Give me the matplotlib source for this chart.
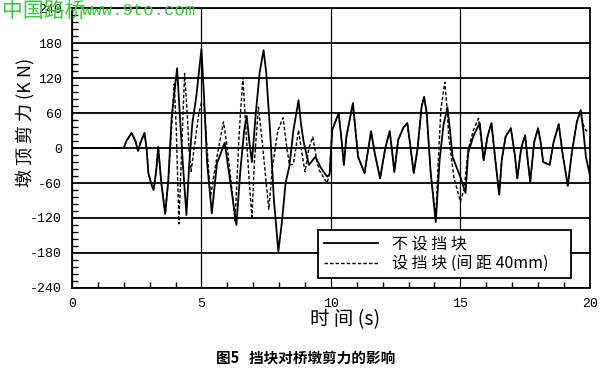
import matplotlib
matplotlib.use("Agg")
import matplotlib.pyplot as plt
from matplotlib.ticker import MultipleLocator

plt.rcParams['font.family'] = ['Noto Sans CJK SC', 'DejaVu Sans']
plt.rcParams['axes.unicode_minus'] = False

# 不设挡块 (solid)
t_solid = [0, 2.0, 2.1, 2.3, 2.45, 2.55, 2.65, 2.8, 2.88, 2.95, 3.05, 3.15, 3.25, 3.33,
           3.45, 3.6, 3.72, 3.85, 4.06, 4.17, 4.28, 4.42, 4.53, 4.65, 4.8, 5.0, 5.1,
           5.22, 5.4, 5.6, 5.9, 6.05, 6.35, 6.5, 6.65, 6.75, 6.85, 6.95, 7.1, 7.25,
           7.4, 7.5, 7.65, 7.8, 7.97, 8.1, 8.25, 8.4, 8.55, 8.75, 8.85, 8.95, 9.15,
           9.4, 9.6, 9.85, 9.95, 10.05, 10.3, 10.42, 10.5, 10.6, 10.85, 10.95, 11.05,
           11.3, 11.45, 11.55, 11.7, 11.9, 12.1, 12.27, 12.35, 12.45, 12.6, 12.8,
           12.95, 13.05, 13.2, 13.35, 13.5, 13.6, 13.7, 13.85, 14.05, 14.2, 14.35,
           14.5, 14.6, 14.7, 15.0, 15.2, 15.3, 15.5, 15.75, 15.9, 16.05, 16.2, 16.35,
           16.5, 16.6, 16.75, 16.95, 17.1, 17.2, 17.35, 17.5, 17.6, 17.7, 17.85,
           18.0, 18.1, 18.2, 18.45, 18.6, 18.8, 18.95, 19.15, 19.3, 19.5, 19.65,
           19.75, 19.85, 20.0]
v_solid = [0, 0, 12, 26, 12, -5, 10, 26, 0, -43, -60, -72, -40, 2,
           -60, -113, -55, 53, 137, 53, -26, -115, -26, 43, 88, 170, 88,
           -26, -112, -26, 9, -38, -132, -40, 30, 55, 10, -24, 60, 130,
           168, 130, 30, -90, -177, -130, -60, -30, 30, 82, 40, 10, -29,
           -15, -33, -49, -45, 31, 60, 10, -29, 20, 77, 30, -15,
           -43, 0, 29, -10, -52, 0, 29, 0, -41, 14, 35,
           43, 10, -43, 0, 70, 88, 60, -40, -127, -20, 40,
           70, 30, -15, -50, -77, -9, 20, 43, -21, 20, 43, -20,
           -80, -20, 20, 34, -10, -52, 0, 22, -20, -58, 10,
           34, 10, -24, -29, 10, 41, -10, -65, -10, 45, 65,
           30, -15, -46]

# 设挡块（间距40mm） (dashed)
t_dash = [0, 2.0, 2.1, 2.3, 2.45, 2.55, 2.65, 2.8, 2.88, 2.95, 3.05, 3.15, 3.25, 3.33,
          3.45, 3.6, 3.72, 3.85, 3.95, 4.03, 4.13, 4.22, 4.35, 4.45, 4.52, 4.6, 4.75,
          4.9, 5.0, 5.1, 5.2, 5.35, 5.6, 5.85, 6.0, 6.15, 6.3, 6.45, 6.6, 6.72, 6.85,
          6.95, 7.05, 7.2, 7.35, 7.5, 7.6, 7.75, 7.95, 8.15, 8.3, 8.4, 8.55, 8.75,
          8.85, 9.0, 9.15, 9.3, 9.45, 9.55, 9.85, 9.95, 10.05, 10.3, 10.42, 10.5,
          10.6, 10.85, 10.95, 11.05, 11.3, 11.45, 11.55, 11.7, 11.9, 12.1, 12.27,
          12.35, 12.45, 12.6, 12.8, 12.95, 13.05, 13.2, 13.35, 13.5, 13.6, 13.7,
          13.85, 14.05, 14.15, 14.25, 14.4, 14.5, 14.55, 14.75, 15.0, 15.15, 15.3,
          15.5, 15.7, 15.9, 16.05, 16.2, 16.35, 16.5, 16.6, 16.75, 16.95, 17.1, 17.2,
          17.35, 17.5, 17.6, 17.7, 17.85, 18.0, 18.1, 18.2, 18.45, 18.6, 18.8,
          18.95, 19.15, 19.3, 19.5, 19.65, 19.75, 19.85, 20.0]
v_dash = [0, 0, 12, 26, 12, -5, 10, 26, 0, -43, -60, -72, -40, 2,
          -60, -113, -55, 40, 110, 30, -130, -20, 128, 60, -3, -40, 10,
          60, 78, 75, 10, -83, -15, 45, 0, -60, -125, 20, 121, 30, -60,
          -118, -20, 70, 10, -60, -105, -30, 30, 52, 0, -29, -28, 31,
          0, -41, 0, 19, -20, -38, -60, -45, 31, 60, 10, -29,
          20, 77, 30, -15, -43, 0, 29, -10, -52, 0, 29,
          0, -41, 14, 35, 43, 10, -43, 0, 70, 88, 60,
          -40, -120, -20, 68, 113, 60, 20, -50, -92, -70, -3,
          30, 51, -21, 20, 43, -20, -80, -20, 20, 34, -10, -52,
          0, 22, -20, -58, 10, 34, 10, -24, -29, 10, 41,
          -10, -65, -10, 45, 65, 40, 30, 28]

y_ticks = [-240, -180, -120, -60, 0, 60, 120, 180, 240]
x_ticks = [0, 5, 10, 15, 20]

fig = plt.figure(figsize=(6, 3.72), dpi=100)
ax = fig.add_axes([0.12, 0.226, 0.863, 0.752])

ax.plot(t_solid, v_solid, color='black', lw=1.3, label='不 设 挡 块',
        solid_joinstyle='round')
ax.plot(t_dash, v_dash, color='black', lw=1.0, dashes=(2.5, 1.5),
        label='设 挡 块 (间 距 40mm)')

ax.set_xlim(0, 20)
ax.set_ylim(-240, 240)
ax.set_xticks(x_ticks)
ax.set_yticks(y_ticks)
ax.xaxis.set_minor_locator(MultipleLocator(1))
ax.yaxis.set_minor_locator(MultipleLocator(12))
ax.tick_params(which='major', direction='in', length=0, labelsize=9.5, pad=7)
ax.tick_params(which='minor', direction='in', length=4, width=1, color='black')
for lab in ax.get_xticklabels() + ax.get_yticklabels():
    lab.set_family('Liberation Mono')

ax.yaxis.grid(True, color='black', lw=1.3)
ax.xaxis.grid(True, color='black', lw=0.9)
for s in ax.spines.values():
    s.set_linewidth(1.3)

# legend box spans the same area as in the scan
leg = ax.legend(loc='lower left', bbox_to_anchor=(0.475, 0.036, 0.488, 0.15),
                mode='expand', fontsize=11.5, handlelength=3.4, frameon=True,
                fancybox=False, framealpha=1, edgecolor='black', borderpad=0.35,
                labelspacing=0.15, handletextpad=0.9, borderaxespad=0)
leg.get_frame().set_linewidth(1.3)

fig.text(0.042, 0.67, '墩 顶 剪 力 (K N)', rotation=90, ha='center', va='center',
         fontsize=13)
fig.text(0.575, 0.14, '时 间 (s)', ha='center', va='center', fontsize=14)
fig.text(0.51, 0.04, '图5   挡块对桥墩剪力的影响', ha='center', va='center',
         fontsize=10.5, fontweight='bold')
fig.text(0.003, 0.972, '中国路桥', color='#3cc83c', ha='left', va='center', fontsize=15)
fig.text(0.137, 0.972, 'www.9to.com', color='#3cc83c', ha='left', va='center',
         fontsize=12.5, family='Liberation Mono')

fig.savefig('out.png', dpi=100)
